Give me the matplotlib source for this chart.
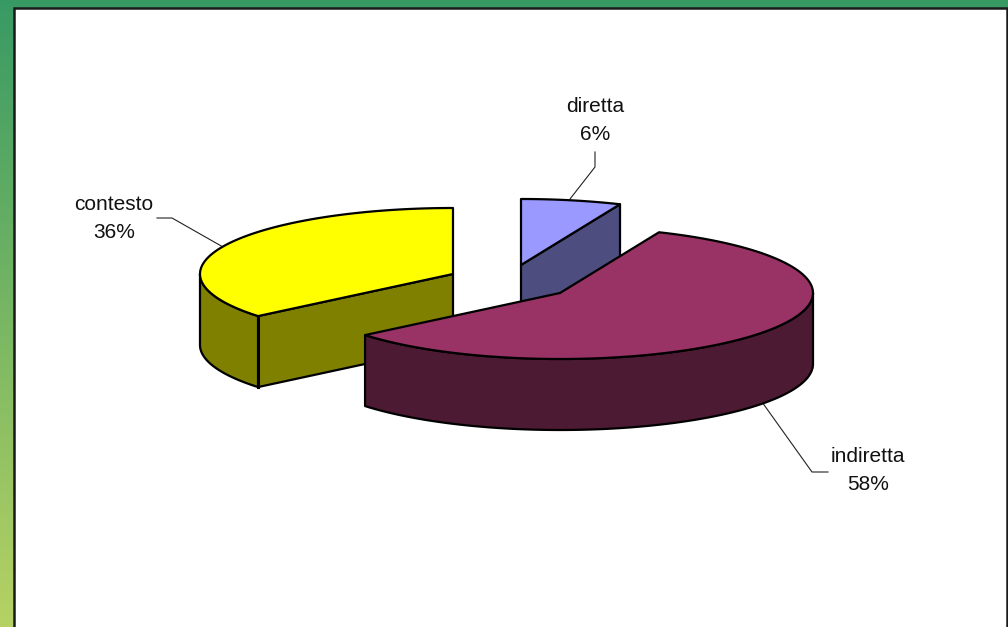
import numpy as np
import matplotlib
matplotlib.use("Agg")
import matplotlib.pyplot as plt
from matplotlib.colors import LinearSegmentedColormap
from matplotlib.patches import Polygon

plt.rcParams['font.family'] = ['Liberation Sans', 'DejaVu Sans']

# data
labels = ['diretta', 'indiretta', 'contesto']
shares = [6.4, 57.6, 36.0]
pct_labels = ['6%', '58%', '36%']
top_colors = ['#9999ff', '#993366', '#ffff00']
side_colors = ['#4d4d80', '#4d1a33', '#808000']

# slice layout in pixels
centers = [(521, 265), (560, 293), (453, 274)]
rx = 253
ry = 66
depth = 71

fig = plt.figure(figsize=(10.08, 6.27), dpi=100)

# green background
bg = fig.add_axes([0, 0, 1, 1])
cmap = LinearSegmentedColormap.from_list('bg', ['#389a63', '#b6d264'])
bg.imshow(np.linspace(0, 1, 256).reshape(-1, 1), aspect='auto', cmap=cmap,
          extent=[0, 1008, 627, 0])
bg.set_xlim(0, 1008)
bg.set_ylim(627, 0)
bg.axis('off')

ax = fig.add_axes([0, 0, 1, 1])
ax.set_xlim(0, 1008)
ax.set_ylim(627, 0)
ax.axis('off')
ax.patch.set_alpha(0)

# white panel
ax.add_patch(plt.Rectangle((14, 7.5), 993, 640, fc='white', ec='#1a1a1a', lw=1.8))


def arc(cx, cy, t1, t2, dy=0):
    t = np.radians(np.linspace(t1, t2, 120))
    return np.column_stack([cx + rx * np.cos(t), cy - ry * np.sin(t) + dy])


def poly(pts, color, z, lw=1.6):
    ax.add_patch(Polygon(pts, closed=True, fc=color, ec='black', lw=lw, joinstyle='round', zorder=z))


# slices run clockwise from the top
ends = 90 - np.cumsum(shares) * 3.6
starts = np.r_[90, ends[:-1]]

# diretta: cut face behind the top
cx, cy = centers[0]
t1, t2 = starts[0], ends[0]
p = arc(cx, cy, t2, t2)[0]
poly([(cx, cy), p, p + [0, depth], (cx, cy + depth)], side_colors[0], 2)
poly(np.vstack([[(cx, cy)], arc(cx, cy, t1, t2)]), top_colors[0], 3)

# contesto: outer wall and cut face, angle runs from the top round to the front corner
cx, cy = centers[2]
a1, a2 = 90, 90 + shares[2] * 3.6
p = arc(cx, cy, a2, a2)[0]
poly([(cx, cy), p, p + [0, depth], (cx, cy + depth)], side_colors[2], 4)
poly(np.vstack([arc(cx, cy, 180, a2), arc(cx, cy, a2, 180, depth)]), side_colors[2], 4)
ax.plot([p[0], p[0]], [p[1], p[1] + depth], color='black', lw=2.2, zorder=5)
poly(np.vstack([[(cx, cy)], arc(cx, cy, a1, a2)]), top_colors[2], 6)

# indiretta: outer wall and top
cx, cy = centers[1]
b1, b2 = starts[1], ends[1]
poly(np.vstack([arc(cx, cy, 0, b2), arc(cx, cy, b2, 0, depth)]), side_colors[1], 7)
poly(np.vstack([[(cx, cy)], arc(cx, cy, b1, b2)]), top_colors[1], 8)

# labels and leader lines
fs = 15
ax.text(595, 106, labels[0], ha='center', va='center', fontsize=fs, color='#111111', zorder=9)
ax.text(595, 134, pct_labels[0], ha='center', va='center', fontsize=fs, color='#111111', zorder=9)
ax.text(114, 204, labels[2], ha='center', va='center', fontsize=fs, color='#111111', zorder=9)
ax.text(114, 232, pct_labels[2], ha='center', va='center', fontsize=fs, color='#111111', zorder=9)
ax.text(868, 457, labels[1], ha='center', va='center', fontsize=fs, color='#111111', zorder=9)
ax.text(868, 485, pct_labels[1], ha='center', va='center', fontsize=fs, color='#111111', zorder=9)

ax.plot([595, 595, 570], [152, 167, 199], color='#222222', lw=0.8, zorder=1)
ax.plot([157, 172, 223], [218, 218, 247], color='#222222', lw=0.8, zorder=1)
ax.plot([828, 812, 762], [472, 472, 402], color='#222222', lw=0.8, zorder=1)

fig.savefig('out.png', dpi=100)
